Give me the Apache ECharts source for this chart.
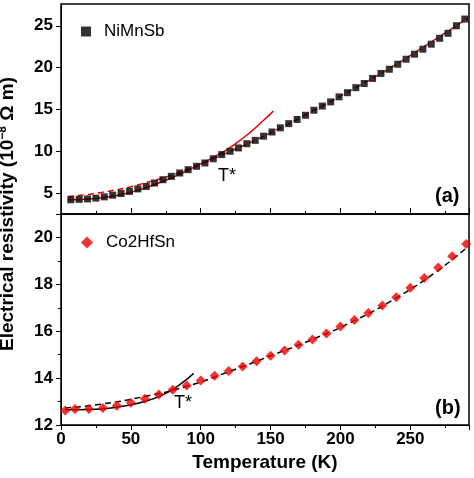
<!DOCTYPE html><html><head><meta charset="utf-8"><script src="https://cdn.jsdelivr.net/npm/echarts@6/dist/echarts.min.js"></script></head><body style="margin:0"><div id="c" style="width:474px;height:478px"></div><script>
const tA=[7,13,19,25,31,37,43,49,55,61,67,73,79,85,91,97,103,109,115,121,127,133,139,145,151,157,163,169,175,181,187,193,199,205,211,217,223,229,235,241,247,253,259,265,271,277,283,289];
const niMnSb=[4.2,4.25,4.3,4.4,4.55,4.75,4.95,5.2,5.5,5.8,6.2,6.6,7.0,7.4,7.8,8.2,8.6,9.1,9.6,10.0,10.4,10.9,11.3,11.8,12.3,12.8,13.3,13.8,14.3,14.9,15.4,15.9,16.5,17.0,17.6,18.1,18.7,19.3,19.8,20.4,21.0,21.6,22.2,22.8,23.5,24.1,25.0,25.8];
const fitASolidT=[5,20,40,60,80,100,115,125,135,145,152];
const fitASolid=[4.2,4.3,4.7,5.6,6.9,8.5,9.8,10.9,12.2,13.7,14.8];
const fitADashT=[5,30,60,90,120,150,180,210,240,270,292];
const fitADash=[4.6,5.1,6.2,7.8,9.9,12.2,14.8,17.5,20.4,23.6,26.0];
const tB=[3,10,20,30,40,50,60,70,80,90,100,110,120,130,140,150,160,170,180,190,200,210,220,230,240,250,260,270,280,290];
const co2HfSn=[12.62,12.68,12.68,12.72,12.82,12.95,13.12,13.3,13.5,13.68,13.9,14.1,14.3,14.5,14.72,14.95,15.18,15.42,15.65,15.9,16.2,16.48,16.78,17.1,17.45,17.85,18.27,18.72,19.2,19.72];
const fitBSolidT=[3,20,40,60,75,85,95];
const fitBSolid=[12.65,12.66,12.76,13.0,13.35,13.72,14.2];
const fitBDashT=[3,30,60,90,120,150,180,210,240,270,292];
const fitBDash=[12.72,12.9,13.22,13.65,14.27,14.95,15.65,16.45,17.42,18.6,19.65];
const z=(a,b)=>a.map((v,i)=>[v,b[i]]);
const F='Liberation Sans, Arial, sans-serif';
const lab={fontFamily:F,fontWeight:'bold',fontSize:17,color:'#000'};
const txt=(t,l,tp,sz,b)=>({type:'text',left:l,top:tp,style:{text:t,fontFamily:F,fontSize:sz,fontWeight:b?'bold':'normal',fill:'#000'}});
const ch=echarts.init(document.getElementById('c'));
ch.setOption({animation:false,
grid:[{left:61,right:5,top:4,height:210,show:true,borderColor:'#000',borderWidth:1.5},{left:61,right:5,top:214,height:211,show:true,borderColor:'#000',borderWidth:1.5}],
xAxis:[{gridIndex:0,min:0,max:292,interval:50,axisLabel:{show:false},axisLine:{lineStyle:{color:'#000'}},axisTick:{inside:true,length:6,lineStyle:{color:'#000'}},minorTick:{show:true,splitNumber:2,length:3,lineStyle:{color:'#000'}},splitLine:{show:false}},
{gridIndex:1,min:0,max:292,interval:50,axisLabel:Object.assign({margin:6,showMaxLabel:false},lab),axisLine:{lineStyle:{color:'#000'}},axisTick:{length:5,lineStyle:{color:'#000'}},minorTick:{show:true,splitNumber:2,length:3,lineStyle:{color:'#000'}},splitLine:{show:false},name:'Temperature (K)',nameLocation:'middle',nameGap:28,nameTextStyle:{fontFamily:F,fontWeight:'bold',fontSize:19,color:'#000'}}],
yAxis:[{gridIndex:0,min:2.5,max:27.6,axisLabel:Object.assign({customValues:[5,10,15,20,25]},lab),axisTick:{customValues:[5,10,15,20,25],length:5,lineStyle:{color:'#000'}},axisLine:{show:true,lineStyle:{color:'#000'}},splitLine:{show:false}},
{gridIndex:1,min:12,max:21,interval:2,axisLabel:Object.assign({showMaxLabel:false},lab),axisTick:{length:5,lineStyle:{color:'#000'}},minorTick:{show:true,splitNumber:2,length:3,lineStyle:{color:'#000'}},axisLine:{show:true,lineStyle:{color:'#000'}},splitLine:{show:false}}],
legend:[{data:['NiMnSb'],left:76,top:18,itemWidth:10,itemHeight:10,itemGap:20,textStyle:{fontFamily:F,fontSize:17,color:'#000',padding:[0,0,0,8]}},{data:['Co2HfSn'],left:76,top:229,itemWidth:12,itemHeight:12,textStyle:{fontFamily:F,fontSize:17,color:'#000',padding:[0,0,0,8]}}],
series:[
{name:'NiMnSb',type:'scatter',xAxisIndex:0,yAxisIndex:0,symbol:'rect',symbolSize:7,itemStyle:{color:'#000'},data:z(tA,niMnSb),z:3},
{type:'line',xAxisIndex:0,yAxisIndex:0,smooth:true,showSymbol:false,lineStyle:{color:'#e00000',width:1.5},data:z(fitASolidT,fitASolid)},
{type:'line',xAxisIndex:0,yAxisIndex:0,smooth:true,showSymbol:false,lineStyle:{color:'#e00000',width:1.5,type:[6,4]},data:z(fitADashT,fitADash)},
{name:'Co2HfSn',type:'scatter',xAxisIndex:1,yAxisIndex:1,symbol:'diamond',symbolSize:10,itemStyle:{color:'#ee0000'},data:z(tB,co2HfSn),z:3},
{type:'line',xAxisIndex:1,yAxisIndex:1,smooth:true,showSymbol:false,lineStyle:{color:'#000',width:1.5},data:z(fitBSolidT,fitBSolid)},
{type:'line',xAxisIndex:1,yAxisIndex:1,smooth:true,showSymbol:false,lineStyle:{color:'#000',width:1.5,type:[6,4]},data:z(fitBDashT,fitBDash)}],
graphic:[
txt('T*',218,167,18,false),
txt('T*',174,394,18,false),
txt('(a)',435,186,20,true),
txt('(b)',435,398,20,true),
{type:'text',x:8,y:214,rotation:Math.PI/2,style:{text:'{a|Electrical resistivity (10}{s|−8}{a| Ω m)}',rich:{a:{fontFamily:F,fontWeight:'bold',fontSize:19,fill:'#000'},s:{fontFamily:F,fontWeight:'bold',fontSize:12,fill:'#000',padding:[0,0,10,0]}},align:'center',verticalAlign:'middle'}}
]});
</script></body></html>
